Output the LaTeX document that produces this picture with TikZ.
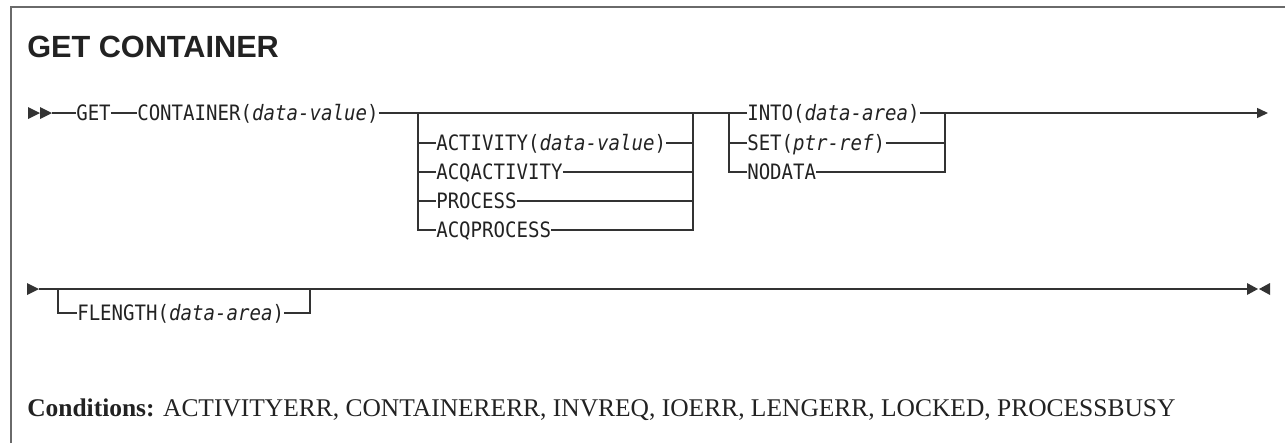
\documentclass[tikz,border=0pt]{standalone}
\usepackage{fontspec}
\usepackage{tikz}
\usetikzlibrary{arrows.meta}
\newfontfamily\railfont[FakeStretch=0.9]{DejaVu Sans Mono}
\newfontfamily\headfont{Liberation Sans}
\newfontfamily\condfont{Liberation Serif}
\definecolor{cink}{HTML}{222222}
\definecolor{crail}{HTML}{333333}
\definecolor{cframe}{HTML}{6A6A6A}

\begin{document}
\begin{tikzpicture}[x=0.75pt,y=-0.75pt,
    kw/.style={anchor=west,inner sep=0pt,text height=11.6pt,text depth=0pt,
      font=\railfont\fontsize{15.9}{18}\selectfont,text=cink},
    rail/.style={draw=crail,line width=1.1pt},
    tip/.style={-{Triangle[length=8.25pt,width=7.5pt]}}]
  \useasboundingbox (0,0) rectangle (1285,443);
  % frame and heading
  \draw[cframe,line width=1.5pt] (11,443) -- (11,7) -- (1285,7);
  \node[anchor=base west,inner sep=0pt,font=\headfont\bfseries\fontsize{23}{27}\selectfont,text=cink]
    (title) at (27,57) {GET CONTAINER};
  % first rail
  \fill[crail] (28,107) -- (40,113) -- (28,119) -- cycle;
  \fill[crail] (40,107) -- (52,113) -- (40,119) -- cycle;
  \coordinate (in1) at (52,113);
  \coordinate (b1l) at (418,113);
  \coordinate (b1r) at (693,113);
  \coordinate (b2l) at (729,113);
  \coordinate (b2r) at (945,113);
  \coordinate (out1) at (1268,113);
  \node[kw] (get) at (76,113) {GET};
  \node[kw] (cont) at (137,113) {CONTAINER(\textit{data-value})};
  \node[kw] (act) at (436,143) {ACTIVITY(\textit{data-value})};
  \node[kw] (acqact) at (436,172) {ACQACTIVITY};
  \node[kw] (proc) at (436,201) {PROCESS};
  \node[kw] (acqproc) at (436,230) {ACQPROCESS};
  \node[kw] (into) at (747,113) {INTO(\textit{data-area})};
  \node[kw] (set) at (747,143) {SET(\textit{ptr-ref})};
  \node[kw] (nodata) at (747,172) {NODATA};
  \draw[rail] (in1) -- (get.west);
  \draw[rail] (get.east) -- (cont.west);
  \draw[rail] (cont.east) -- (into.west);
  \draw[rail,tip] (into.east) -- (out1);
  % optional group
  \draw[rail] (b1l) |- (acqproc.west);
  \draw[rail] (b1l |- act.west) -- (act.west);
  \draw[rail] (b1l |- acqact.west) -- (acqact.west);
  \draw[rail] (b1l |- proc.west) -- (proc.west);
  \draw[rail] (b1r) |- (acqproc.east);
  \draw[rail] (act.east) -- (b1r |- act.east);
  \draw[rail] (acqact.east) -- (b1r |- acqact.east);
  \draw[rail] (proc.east) -- (b1r |- proc.east);
  % required choice
  \draw[rail] (b2l) |- (nodata.west);
  \draw[rail] (b2l |- set.west) -- (set.west);
  \draw[rail] (b2r) |- (nodata.east);
  \draw[rail] (set.east) -- (b2r |- set.east);
  % second rail
  \fill[crail] (27,283) -- (39,289) -- (27,295) -- cycle;
  \coordinate (in2) at (39,289);
  \coordinate (fl) at (58,289);
  \coordinate (flr) at (310,289);
  \coordinate (out2) at (1247,289);
  \node[kw] (flen) at (77,313) {FLENGTH(\textit{data-area})};
  \draw[rail] (in2) -- (out2);
  \draw[rail] (fl) |- (flen.west);
  \draw[rail] (flen.east) -| (flr);
  \fill[crail] (1247,283) -- (1258,289) -- (1247,295) -- cycle;
  \fill[crail] (1270,283) -- (1259,289) -- (1270,295) -- cycle;
  % conditions
  \node[anchor=west,inner sep=0pt,font=\condfont\fontsize{19.1}{22}\selectfont,text=cink]
    (cond) at (27,410) {\textbf{Conditions:} ACTIVITYERR, CONTAINERERR, INVREQ, IOERR, LENGERR, LOCKED, PROCESSBUSY};
\end{tikzpicture}
\end{document}
